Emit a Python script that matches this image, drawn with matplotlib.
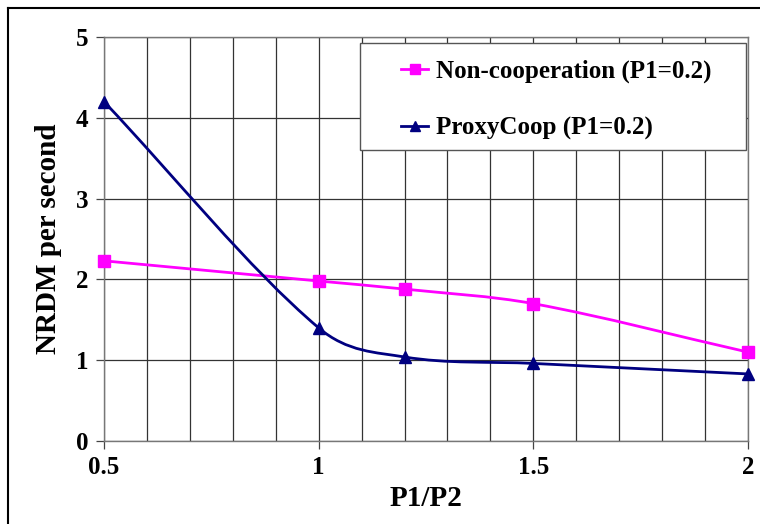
import numpy as np
import matplotlib
matplotlib.use("Agg")
import matplotlib.pyplot as plt
from matplotlib.path import Path
from matplotlib.patches import PathPatch, Rectangle
from matplotlib.lines import Line2D

ratio = [0.5, 1.0, 1.2, 1.5, 2.0]
noncoop = [2.23, 1.98, 1.88, 1.70, 1.10]
proxycoop = [4.20, 1.40, 1.04, 0.96, 0.83]

plt.rcParams['font.family'] = ['Liberation Serif', 'DejaVu Serif']
plt.rcParams['font.weight'] = 'bold'


def smooth_path(xs, ys):
    # bezier segments through the points, tangents from neighbour slopes
    x = np.asarray(xs, float)
    y = np.asarray(ys, float)
    n = len(x)
    m = np.zeros(n)
    for i in range(n):
        a = max(i - 1, 0)
        b = min(i + 1, n - 1)
        m[i] = (y[b] - y[a]) / (x[b] - x[a])
    verts = [(x[0], y[0])]
    codes = [Path.MOVETO]
    for i in range(n - 1):
        d = (x[i + 1] - x[i]) / 3.0
        verts += [(x[i] + d, y[i] + m[i] * d),
                  (x[i + 1] - d, y[i + 1] - m[i + 1] * d),
                  (x[i + 1], y[i + 1])]
        codes += [Path.CURVE4] * 3
    return Path(verts, codes)


fig = plt.figure(figsize=(7.6, 5.24), dpi=100)
ax = fig.add_axes([104 / 760, 83 / 524, 644 / 760, 404 / 524])

ax.set_xlim(0.5, 2.0)
ax.set_ylim(0, 5)
ax.set_xticks([0.5, 1, 1.5, 2])
ax.set_xticklabels(['0.5', '1', '1.5', '2'])
ax.set_xticks(np.arange(0.5, 2.01, 0.1), minor=True)
ax.set_yticks([0, 1, 2, 3, 4, 5])
ax.grid(True, which='both', axis='x', color='#333333', linewidth=0.9)
ax.grid(True, which='major', axis='y', color='#333333', linewidth=0.9)
ax.tick_params(axis='x', which='minor', length=0)
ax.tick_params(axis='both', which='major', length=6, width=0.9, color='#444444',
               labelsize=18, pad=5)
for s in ax.spines.values():
    s.set_color('#777777')
    s.set_linewidth(1.0)

for ys, col, mk, ms in [(noncoop, '#FF00FF', 's', 8),
                        (proxycoop, '#000080', '^', 8)]:
    patch = PathPatch(smooth_path(ratio, ys), facecolor='none', edgecolor=col,
                      linewidth=2, zorder=3, clip_on=False)
    ax.add_patch(patch)
    ax.plot(ratio, ys, linestyle='none', marker=mk, color=col, markersize=ms,
            zorder=4, clip_on=False)

# legend box
box = Rectangle((360 / 760, 1 - 150 / 524), 386 / 760, 107 / 524,
                transform=fig.transFigure, facecolor='white', edgecolor='#555555',
                linewidth=1.0, zorder=5)
fig.add_artist(box)
handles = [Line2D([], [], color='#FF00FF', lw=2, marker='s', markersize=7),
           Line2D([], [], color='#000080', lw=2, marker='^', markersize=7)]
leg = fig.legend(handles, ['Non-cooperation (P1=0.2)', 'ProxyCoop (P1=0.2)'],
                 loc='upper left', bbox_to_anchor=(401 / 760, 1 - 60 / 524),
                 fontsize=18, frameon=False, handlelength=1.08, handletextpad=0.3,
                 labelspacing=1.33, borderpad=0, borderaxespad=0)
leg.set_zorder(6)

ax.set_xlabel('P1/P2', fontsize=21, fontweight='bold', labelpad=4)
ax.set_ylabel('NRDM per second', fontsize=21, fontweight='bold', labelpad=10)

# outer chart border
fig.add_artist(Line2D([8 / 760, 8 / 760], [0, 1 - 8 / 524], color='black', lw=1.5))
fig.add_artist(Line2D([8 / 760, 1], [1 - 8 / 524, 1 - 8 / 524], color='black', lw=1.5))

fig.savefig('out.png', dpi=100)
